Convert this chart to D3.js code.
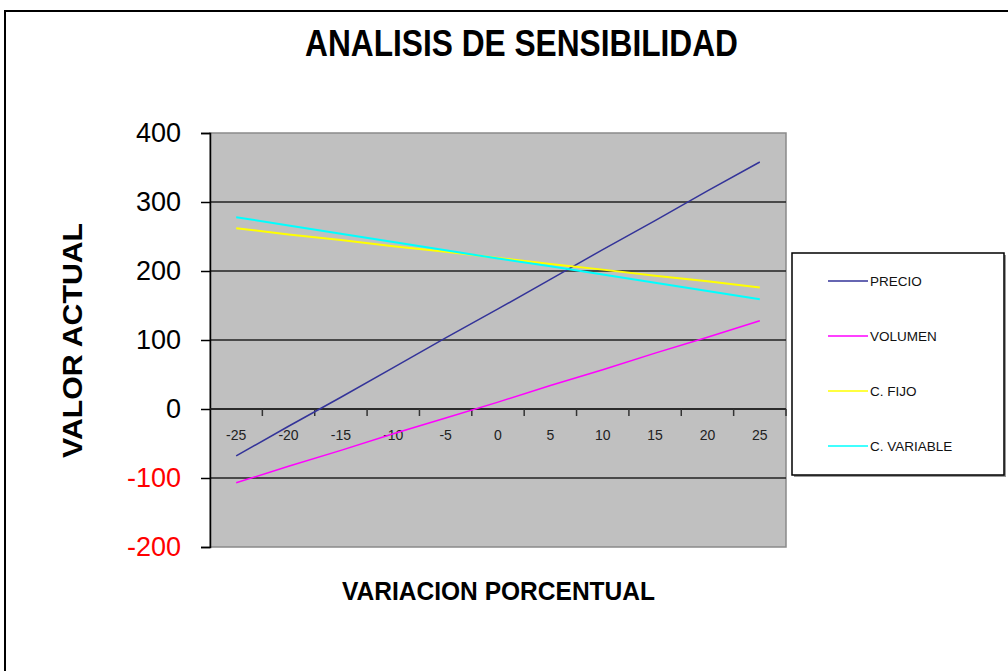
<!DOCTYPE html>
<html>
<head>
  <meta charset="utf-8">
  <style>
    body { margin: 0; background: #fff; }
    svg { display: block; font-family: Arial, "Liberation Sans", sans-serif; }
  </style>
</head>
<body>
  <script src="https://cdn.jsdelivr.net/npm/d3@7"></script>
  <script>
    // Datos
    const variaciones = [-25, -20, -15, -10, -5, 0, 5, 10, 15, 20, 25];
    const precio = [-68, -25, 17, 60, 103, 145, 188, 231, 273, 316, 358];
    const volumen = [-107, -83, -60, -36, -13, 10, 34, 57, 81, 104, 128];
    const cFijo = [262, 253, 245, 236, 228, 219, 210, 202, 193, 185, 176];
    const cVariable = [278, 266, 254, 242, 230, 218, 207, 195, 183, 171, 159];
    const yTicks = [-200, -100, 0, 100, 200, 300, 400];

    const series = [
      { name: 'PRECIO', values: precio, color: '#333399', width: 1.5 },
      { name: 'VOLUMEN', values: volumen, color: '#ff00ff', width: 1.5 },
      { name: 'C. FIJO', values: cFijo, color: '#ffff00', width: 2 },
      { name: 'C. VARIABLE', values: cVariable, color: '#00ffff', width: 2 }
    ];

    const width = 1008;
    const height = 671;
    const plot = { left: 210, right: 786, top: 133, bottom: 547 };

    const svg = d3.select('body')
      .append('svg')
      .attr('width', width)
      .attr('height', height);

    // marco exterior
    svg.append('rect')
      .attr('x', 5).attr('y', 11)
      .attr('width', 1020).attr('height', 700)
      .attr('fill', 'none')
      .attr('stroke', '#000')
      .attr('stroke-width', 2);

    // escalas
    const x = d3.scaleBand()
      .domain(variaciones)
      .range([plot.left, plot.right]);

    const y = d3.scaleLinear()
      .domain([-200, 400])
      .range([plot.bottom, plot.top]);

    // fondo del area
    svg.append('rect')
      .attr('x', plot.left).attr('y', plot.top)
      .attr('width', plot.right - plot.left)
      .attr('height', plot.bottom - plot.top)
      .attr('fill', '#c0c0c0')
      .attr('stroke', '#8a8a8a')
      .attr('stroke-width', 1.5);

    // lineas de division
    svg.append('g')
      .selectAll('line')
      .data(yTicks.filter(d => d > -200 && d < 400))
      .enter()
      .append('line')
      .attr('x1', plot.left).attr('x2', plot.right)
      .attr('y1', d => y(d)).attr('y2', d => y(d))
      .attr('stroke', '#222')
      .attr('stroke-width', 1.5);

    // eje Y
    const yAxis = d3.axisLeft(y)
      .tickValues(yTicks)
      .tickSize(9)
      .tickPadding(20)
      .tickFormat(d => String(d));

    const gy = svg.append('g')
      .attr('transform', `translate(${plot.left}, 0)`)
      .call(yAxis);
    gy.select('.domain').attr('stroke', '#000').attr('stroke-width', 1.5);
    gy.selectAll('.tick line').attr('stroke', '#000').attr('stroke-width', 1.5);
    gy.selectAll('.tick text')
      .attr('font-size', 27)
      .attr('font-family', 'Arial, "Liberation Sans", sans-serif')
      .attr('fill', d => d < 0 ? '#ff0000' : '#000');

    // eje X (cruza en 0, marcas entre categorias)
    const y0 = y(0);
    const bw = x.bandwidth();
    const xg = svg.append('g');
    xg.append('line')
      .attr('x1', plot.left).attr('x2', plot.right)
      .attr('y1', y0).attr('y2', y0)
      .attr('stroke', '#222').attr('stroke-width', 1.5);
    xg.selectAll('.tk')
      .data(variaciones)
      .enter()
      .append('line')
      .attr('class', 'tk')
      .attr('x1', d => x(d) + bw).attr('x2', d => x(d) + bw)
      .attr('y1', y0).attr('y2', y0 + 7)
      .attr('stroke', '#333').attr('stroke-width', 1.5);
    xg.selectAll('text')
      .data(variaciones)
      .enter()
      .append('text')
      .attr('x', d => x(d) + bw / 2)
      .attr('y', y0 + 31)
      .attr('text-anchor', 'middle')
      .attr('font-size', 14)
      .attr('fill', '#222')
      .text(d => d);

    // series
    const line = d3.line()
      .x((d, i) => x(variaciones[i]) + bw / 2)
      .y(d => y(d));

    svg.append('g')
      .selectAll('path')
      .data(series)
      .enter()
      .append('path')
      .attr('d', s => line(s.values))
      .attr('fill', 'none')
      .attr('stroke', s => s.color)
      .attr('stroke-width', s => s.width);

    // titulos
    svg.append('text')
      .attr('x', 305).attr('y', 56)
      .attr('font-size', 36)
      .attr('font-weight', 'bold')
      .attr('textLength', 433)
      .attr('lengthAdjust', 'spacingAndGlyphs')
      .text('ANALISIS DE SENSIBILIDAD');

    svg.append('text')
      .attr('transform', 'translate(82, 458) rotate(-90)')
      .attr('font-size', 28)
      .attr('font-weight', 'bold')
      .attr('textLength', 235)
      .attr('lengthAdjust', 'spacingAndGlyphs')
      .text('VALOR ACTUAL');

    svg.append('text')
      .attr('x', 342).attr('y', 600)
      .attr('font-size', 25)
      .attr('font-weight', 'bold')
      .attr('textLength', 313)
      .attr('lengthAdjust', 'spacingAndGlyphs')
      .text('VARIACION PORCENTUAL');

    // leyenda
    const legend = svg.append('g')
      .attr('transform', 'translate(792, 253)');
    legend.append('rect')
      .attr('x', 2).attr('y', 2)
      .attr('width', 212).attr('height', 222)
      .attr('fill', '#999');
    legend.append('rect')
      .attr('width', 212).attr('height', 222)
      .attr('fill', '#fff')
      .attr('stroke', '#000')
      .attr('stroke-width', 1.5);

    const items = legend.selectAll('.item')
      .data(series)
      .enter()
      .append('g')
      .attr('class', 'item')
      .attr('transform', (d, i) => `translate(0, ${28 + i * 55})`);
    items.append('line')
      .attr('x1', 36).attr('x2', 76)
      .attr('stroke', d => d.color)
      .attr('stroke-width', 1.5);
    items.append('text')
      .attr('x', 78).attr('y', 5)
      .attr('font-size', 13.5)
      .attr('fill', '#111')
      .text(d => d.name);
  </script>
</body>
</html>
